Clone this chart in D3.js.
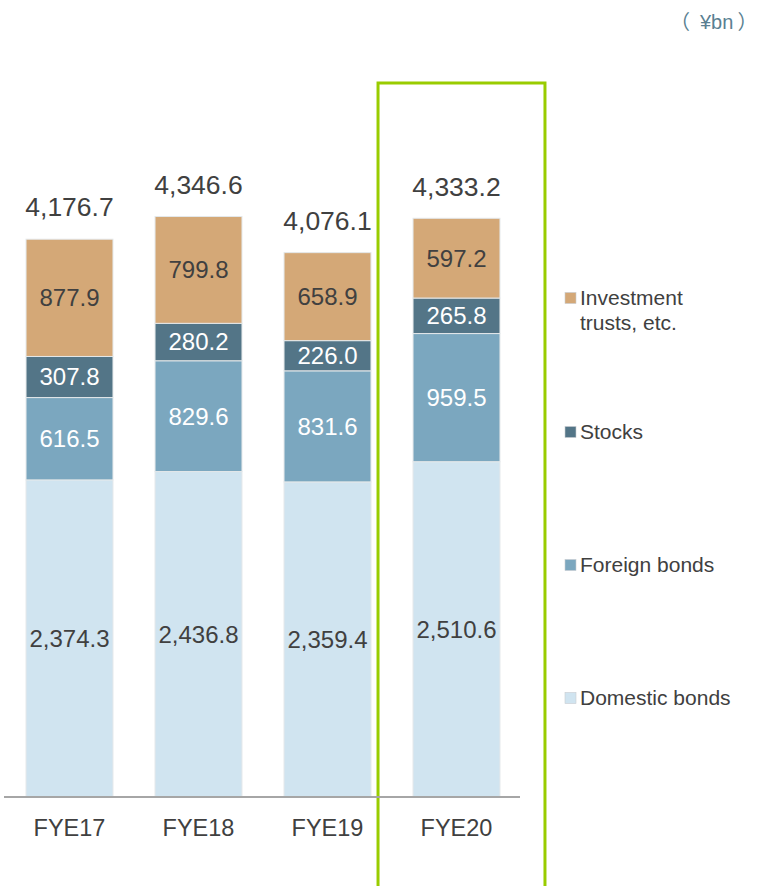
<!DOCTYPE html>
<html>
<head>
<meta charset="utf-8">
<script src="https://cdn.jsdelivr.net/npm/d3@7"></script>
<style>
  html, body { margin: 0; padding: 0; background: #fff; }
  svg { display: block; font-family: "Liberation Sans", Arial, sans-serif; }
</style>
</head>
<body>
<svg id="chart" width="758" height="886"></svg>
<script>
// Securities holdings by type (¥bn)
const categories = ["FYE17", "FYE18", "FYE19", "FYE20"];
const domesticBonds = [2374.3, 2436.8, 2359.4, 2510.6];
const foreignBonds = [616.5, 829.6, 831.6, 959.5];
const stocks = [307.8, 280.2, 226.0, 265.8];
const investmentTrusts = [877.9, 799.8, 658.9, 597.2];
const totals = [4176.7, 4346.6, 4076.1, 4333.2];

const seriesKeys = ["domestic", "foreign", "stocks", "trusts"];
const seriesNames = {
  trusts: ["Investment", "trusts, etc."],
  stocks: ["Stocks"],
  foreign: ["Foreign bonds"],
  domestic: ["Domestic bonds"]
};
const colors = {
  domestic: "#d0e4f0",
  foreign: "#7ba7bf",
  stocks: "#537587",
  trusts: "#d4a877"
};
const labelColors = {
  domestic: "#404040",
  foreign: "#ffffff",
  stocks: "#ffffff",
  trusts: "#404040"
};

const rows = categories.map((c, i) => ({
  category: c,
  domestic: domesticBonds[i],
  foreign: foreignBonds[i],
  stocks: stocks[i],
  trusts: investmentTrusts[i],
  total: totals[i]
}));

const svg = d3.select("#chart");
const baseY = 797;

const x = d3.scaleBand()
  .domain(categories)
  .range([5, 521])
  .paddingInner(0.326)
  .paddingOuter(0.163);

const y = d3.scaleLinear()
  .domain([0, 4500])
  .range([baseY, 196]);

const stacked = d3.stack().keys(seriesKeys)(rows);
const fmt = d3.format(",.1f");

// highlight frame around the latest year
svg.append("rect")
  .attr("x", x("FYE20") - 35)
  .attr("y", 83)
  .attr("width", x.bandwidth() + 80)
  .attr("height", 820)
  .attr("fill", "none")
  .attr("stroke", "#99cc00")
  .attr("stroke-width", 3);

// stacked segments
const layers = svg.append("g").selectAll("g")
  .data(stacked)
  .join("g")
  .attr("fill", d => colors[d.key]);

layers.selectAll("rect")
  .data(d => d.map(v => Object.assign(v, { key: d.key })))
  .join("rect")
  .attr("x", d => x(d.data.category))
  .attr("y", d => y(d[1]))
  .attr("width", x.bandwidth())
  .attr("height", d => y(d[0]) - y(d[1]))
  .attr("stroke", "#e4e8ea")
  .attr("stroke-width", 1);

// segment value labels
layers.selectAll("text")
  .data(d => d)
  .join("text")
  .attr("x", d => x(d.data.category) + x.bandwidth() / 2)
  .attr("y", d => (y(d[0]) + y(d[1])) / 2)
  .attr("dy", "0.35em")
  .attr("text-anchor", "middle")
  .attr("font-size", 24)
  .attr("fill", d => labelColors[d.key])
  .text(d => fmt(d.data[d.key]));

// totals above bars
svg.append("g").selectAll("text")
  .data(rows)
  .join("text")
  .attr("x", d => x(d.category) + x.bandwidth() / 2)
  .attr("y", d => y(d.total) - 32)
  .attr("dy", "0.35em")
  .attr("text-anchor", "middle")
  .attr("font-size", 26.5)
  .attr("fill", "#404040")
  .text(d => fmt(d.total));

// category axis
const axis = svg.append("g")
  .attr("transform", `translate(0,${baseY})`)
  .call(d3.axisBottom(x).tickSize(0).tickPadding(22));
axis.select(".domain")
  .attr("d", "M4,0H520")
  .attr("stroke", "#a6a6a6")
  .attr("stroke-width", 2);
axis.selectAll(".tick text")
  .attr("font-size", 23.5)
  .attr("font-family", "'Liberation Sans', Arial, sans-serif")
  .attr("fill", "#404040");

// legend
const legendItems = [
  { key: "trusts", y: 298 },
  { key: "stocks", y: 432 },
  { key: "foreign", y: 565 },
  { key: "domestic", y: 698 }
];
const legend = svg.append("g").selectAll("g")
  .data(legendItems)
  .join("g")
  .attr("transform", d => `translate(565,${d.y})`);
legend.append("rect")
  .attr("x", 0)
  .attr("y", -5.5)
  .attr("width", 11)
  .attr("height", 11)
  .attr("fill", d => colors[d.key])
  .attr("stroke", "#c8ccd0")
  .attr("stroke-width", 0.6);
legend.append("text")
  .attr("font-size", 21)
  .attr("fill", "#404040")
  .selectAll("tspan")
  .data(d => seriesNames[d.key])
  .join("tspan")
  .attr("x", 15)
  .attr("y", (d, i) => i * 25)
  .attr("dy", "0.35em")
  .text(d => d);

// unit, full-width brackets nudged to sit close to the text
const unit = svg.append("text")
  .attr("x", 670)
  .attr("y", 22)
  .attr("dy", "0.35em")
  .attr("font-size", 20)
  .attr("fill", "#5a7f92");
unit.append("tspan").attr("font-family", "'Noto Sans CJK JP', sans-serif").text("（");
unit.append("tspan").attr("dx", 10).text("¥bn");
unit.append("tspan").attr("dx", 4).attr("font-family", "'Noto Sans CJK JP', sans-serif").text("）");
</script>
</body>
</html>
